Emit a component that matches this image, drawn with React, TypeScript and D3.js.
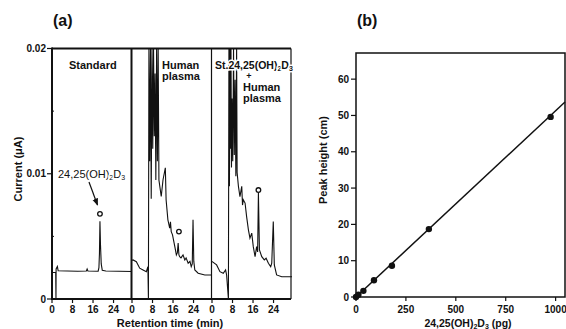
import React from 'react';
import * as d3 from 'd3';

// chromatogram traces: [retention time (min), current (uA)]
const standardTrace = [
  [0, 0.00212], [1.45, 0.00212], [1.55, 0], [1.6, 0.0024], [2.1, 0.0026], [2.4, 0.00225],
  [6, 0.00224], [10, 0.00222], [13.4, 0.00224], [13.7, 0.0024], [14, 0.00224],
  [18.0, 0.00222], [18.3, 0.0025], [18.5, 0.0036], [18.7, 0.0062], [18.9, 0.0044],
  [19.2, 0.0028], [19.6, 0.0023], [21, 0.00224], [26, 0.00222], [31.2, 0.0022],
];
const plasmaTrace = [
  [0, 0.0031], [0.4, 0.00312], [1.7, 0.00298], [3.0, 0.00246], [4.3, 0.00232], [5.6, 0.00218],
  [6.2, 0.00258], [6.4, 0], [6.6, 0.02], [6.9, 0.011], [7.2, 0.02], [7.5, 0.008], [7.8, 0.02],
  [8.1, 0.012], [8.4, 0.02], [8.7, 0.013], [9.0, 0.018], [9.3, 0.0095], [9.6, 0.02], [9.9, 0.011],
  [10.2, 0.02], [10.5, 0.0095], [11.4, 0.00818], [12.1, 0.00952], [13.0, 0.01048], [13.3, 0.00792],
  [14.0, 0.00632], [14.7, 0.00566], [15.0, 0.00616], [15.3, 0.00538], [15.8, 0.00512],
  [16.7, 0.00418], [17.3, 0.00352], [17.7, 0.0037], [18.0, 0.00446], [18.3, 0.00352],
  [18.6, 0.00338], [19.1, 0.00328], [19.9, 0.00352], [20.6, 0.00312], [21.1, 0.00328],
  [21.9, 0.00286], [22.6, 0.003], [23.1, 0.00258], [23.5, 0.0028], [23.8, 0.00632], [24.1, 0.003],
  [24.5, 0.00232], [25.8, 0.00206], [28.4, 0.00192], [31.2, 0.00192],
];
const spikedTrace = [
  [0, 0.003], [0.1, 0.00298], [1.8, 0.00272], [3.1, 0.00218], [4.4, 0.00206], [5.3, 0.00232],
  [5.7, 0.00192], [6.4, 0], [6.6, 0.02], [6.8, 0.009], [7.0, 0.02], [7.2, 0.012], [7.4, 0.02],
  [7.6, 0.0105], [7.8, 0.016], [8.1, 0.011], [8.4, 0.02], [8.7, 0.0115], [9.0, 0.0175],
  [9.3, 0.0098], [9.6, 0.02], [9.8, 0.0101], [10.3, 0.009], [10.9, 0.00818], [11.6, 0.009],
  [11.9, 0.0075], [12.2, 0.00792], [12.9, 0.00766], [13.5, 0.00658], [14.2, 0.00552],
  [14.8, 0.00486], [15.5, 0.00526], [16.1, 0.00418], [16.8, 0.00338], [17.4, 0.00418],
  [17.8, 0.00376], [18.1, 0.00846], [18.5, 0.00392], [19.4, 0.00338], [20.4, 0.00312],
  [21.1, 0.00326], [22.0, 0.00286], [22.9, 0.00258], [23.3, 0.00286], [23.9, 0.00618],
  [24.3, 0.00272], [25.2, 0.00192], [27.2, 0.00178], [31.2, 0.00178],
];
const traces = [standardTrace, plasmaTrace, spikedTrace];

// marked 24,25(OH)2D3 peaks (open circles)
const markerTime = [18.7, 18.3, 18.1];
const markerCurrent = [0.0068, 0.00538, 0.0087];

const timeTicks = [0, 8, 16, 24];
const currentTicks = [0, 0.01, 0.02];
const currentMinor = [0.005, 0.015];

// calibration (b)
const amountPg = [0, 12, 37, 90, 180, 365, 975];
const peakHeightCm = [0, 0.6, 1.7, 4.6, 8.6, 18.7, 49.6];
const fitSlope = 0.0513;
const amountTicks = [0, 250, 500, 750, 1000];
const heightTicks = [0, 10, 20, 30, 40, 50, 60];

const font = '"Liberation Sans", Arial, sans-serif';

const Sub = ({ children, size = 7 }: any) => (
  <tspan fontSize={size} dy={2}>{children}</tspan>
);

// label with white halo so the trace passes behind it
const halo = { stroke: '#fff', strokeWidth: 3, paintOrder: 'stroke' } as any;

export default function App() {
  // panel (a)
  const segSpan = 31.2;
  const segW = 80;
  const segX0 = [52, 132, 212];
  const aRight = 291;
  const ya = d3.scaleLinear().domain([0, 0.02]).range([299, 48.5]);
  const xs = segX0.map(x0 => d3.scaleLinear().domain([0, segSpan]).range([x0, x0 + segW]));

  // panel (b)
  const xb = d3.scaleLinear().domain([0, 1047]).range([356, 565]);
  const yb = d3.scaleLinear().domain([0, 67.2]).range([297, 53]);

  const ink = '#111';

  return (
    <svg width={566} height={329} style={{ position: 'absolute', left: 0, top: 0, background: '#fff' }}
      fontFamily={font} fill={ink}>
      <defs>
        <marker id="arr" viewBox="0 0 10 10" refX="9" refY="5" markerWidth="6" markerHeight="6" orient="auto">
          <path d="M0,1 L10,5 L0,9 z" fill={ink} />
        </marker>
      </defs>

      {/* ---------- (a) ---------- */}
      <text x={53} y={26} fontSize={16} fontWeight="bold">(a)</text>

      {traces.map((tr, i) => {
        const line = d3.line<number[]>().x(d => xs[i](d[0])).y(d => ya(d[1]));
        return <path key={i} d={line(tr) || ''} fill="none" stroke={ink} strokeWidth={1.1} />;
      })}

      {/* segment dividers */}
      {[1, 2].map(i => (
        <line key={i} x1={xs[i](0) - 0.5} x2={xs[i](0) - 0.5} y1={ya(0)} y2={ya(0.02)}
          stroke={ink} strokeWidth={i === 1 ? 2 : 1.2} />
      ))}

      {markerTime.map((t, i) => (
        <circle key={i} cx={xs[i](t)} cy={ya(markerCurrent[i])} r={2.3} fill="none" stroke={ink} strokeWidth={1.3} />
      ))}

      {/* frame */}
      <line x1={52} x2={aRight} y1={ya(0)} y2={ya(0)} stroke={ink} strokeWidth={2} />
      <line x1={52} x2={aRight} y1={ya(0.02)} y2={ya(0.02)} stroke={ink} strokeWidth={2} />
      <line x1={52} x2={52} y1={ya(0) + 1} y2={ya(0.02) - 1} stroke={ink} strokeWidth={2} />
      <line x1={aRight} x2={aRight} y1={ya(0)} y2={ya(0.02)} stroke={ink} strokeWidth={1.2} />

      {currentTicks.map(v => (
        <g key={v}>
          <line x1={47} x2={52} y1={ya(v)} y2={ya(v)} stroke={ink} strokeWidth={1.2} />
          <text x={46} y={ya(v) + 3.5} fontSize={10} fontWeight="bold" textAnchor="end">{v === 0 ? '0' : v.toFixed(2)}</text>
        </g>
      ))}
      {currentMinor.map(v => (
        <line key={v} x1={52} x2={54} y1={ya(v)} y2={ya(v)} stroke={ink} strokeWidth={1} />
      ))}

      {xs.map((x, i) => timeTicks.map(t => (
        <g key={`${i}-${t}`}>
          <line x1={x(t)} x2={x(t)} y1={ya(0)} y2={ya(0) + 4} stroke={ink} strokeWidth={1.2} />
          <text x={x(t)} y={ya(0) + 14} fontSize={10} fontWeight="bold" textAnchor="middle">{t}</text>
        </g>
      )))}

      <text x={170} y={327} fontSize={11} fontWeight="bold" textAnchor="middle">Retention time (min)</text>
      <text transform="translate(22,169) rotate(-90)" fontSize={11} fontWeight="bold" textAnchor="middle">Current (μA)</text>

      <text x={69} y={69} fontSize={11} fontWeight="bold" {...halo}>Standard</text>
      <text x={162} y={68.5} fontSize={11} fontWeight="bold" {...halo}>Human</text>
      <text x={162} y={79.5} fontSize={11} fontWeight="bold" {...halo}>plasma</text>
      <text x={215} y={68.5} fontSize={10.5} fontWeight="bold" {...halo}>
        St.24,25(OH)<Sub>2</Sub><tspan dy={-2}>D</tspan><Sub>3</Sub>
      </text>
      <text x={249} y={78.5} fontSize={9} fontWeight="bold" textAnchor="middle" {...halo}>+</text>
      <text x={243} y={91} fontSize={11} fontWeight="bold" {...halo}>Human</text>
      <text x={243} y={101.5} fontSize={11} fontWeight="bold" {...halo}>plasma</text>

      <text x={58} y={178} fontSize={11} {...halo}>
        24,25(OH)<Sub>2</Sub><tspan dy={-2}>D</tspan><Sub>3</Sub>
      </text>
      <line x1={89} y1={182} x2={97.5} y2={205} stroke={ink} strokeWidth={1.2} markerEnd="url(#arr)" />

      {/* ---------- (b) ---------- */}
      <text x={357} y={26} fontSize={16} fontWeight="bold">(b)</text>

      <line x1={xb(0)} y1={yb(0)} x2={xb(1047)} y2={yb(fitSlope * 1047)} stroke={ink} strokeWidth={1.5} />
      {amountPg.map((a, i) => (
        <circle key={i} cx={xb(a)} cy={yb(peakHeightCm[i])} r={3.2} fill={ink} />
      ))}

      <rect x={356} y={53} width={209} height={244} fill="none" stroke={ink} strokeWidth={1.5} />

      {heightTicks.map(v => (
        <g key={v}>
          <line x1={351} x2={356} y1={yb(v)} y2={yb(v)} stroke={ink} strokeWidth={1.2} />
          <text x={349} y={yb(v) + 3.5} fontSize={10} fontWeight="bold" textAnchor="end">{v}</text>
        </g>
      ))}
      {amountTicks.map(v => (
        <g key={v}>
          <line x1={xb(v)} x2={xb(v)} y1={297} y2={301} stroke={ink} strokeWidth={1.2} />
          <text x={xb(v)} y={313} fontSize={10} fontWeight="bold" textAnchor="middle">{v}</text>
        </g>
      ))}

      <text transform="translate(327,160) rotate(-90)" fontSize={11} fontWeight="bold" textAnchor="middle">Peak height (cm)</text>
      <text x={468} y={327} fontSize={10.5} fontWeight="bold" textAnchor="middle">
        24,25(OH)<Sub>2</Sub><tspan dy={-2}>D</tspan><Sub>3</Sub><tspan dy={-2}> (pg)</tspan>
      </text>
    </svg>
  );
}
